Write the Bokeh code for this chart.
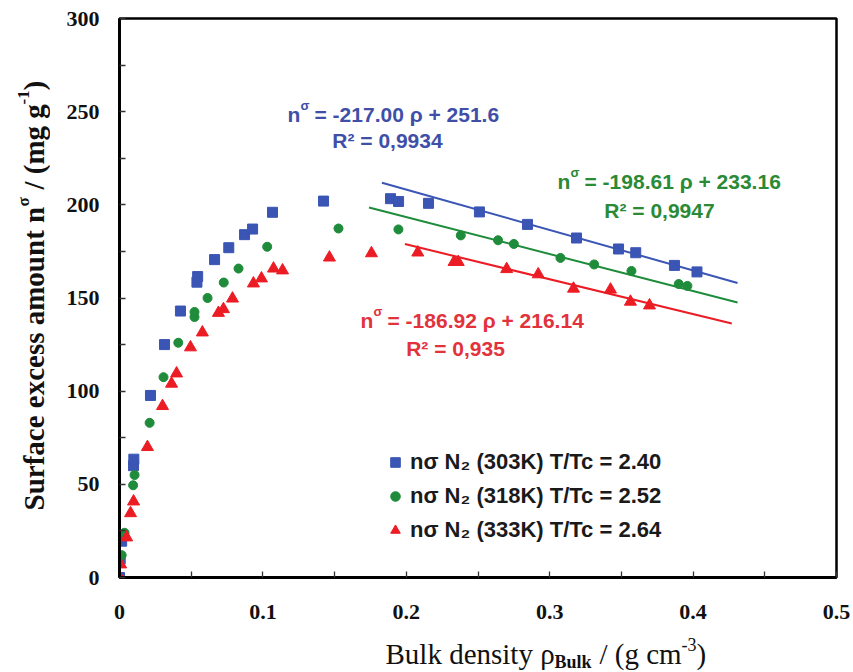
from math import pi
from bokeh.plotting import figure
from bokeh.layouts import row, column
from bokeh.models import (FixedTicker, NumeralTickFormatter, Label, Legend,
                          LegendItem, Range1d, ColumnDataSource)
from bokeh.embed import file_html
from bokeh.resources import INLINE

# ---------------- data ----------------
x_303 = [0.0, 0.0005, 0.0015, 0.0098, 0.0100, 0.0216, 0.0314, 0.0425, 0.0540,
         0.0545, 0.0663, 0.0762, 0.0872, 0.0928, 0.1067, 0.1423, 0.1890, 0.1946,
         0.2155, 0.2510, 0.2845, 0.3187, 0.3480, 0.3600, 0.3870, 0.4027]
y_303 = [0.0, 10.0, 19.5, 60.0, 63.5, 97.7, 125.0, 143.0, 158.5,
         161.5, 170.6, 177.0, 184.0, 187.0, 196.0, 202.0, 203.3, 201.8,
         200.8, 196.2, 189.5, 182.2, 176.3, 174.3, 167.5, 164.0]

x_318 = [0.0015, 0.0035, 0.0095, 0.0105, 0.0210, 0.0307, 0.0410, 0.0523, 0.0523,
         0.0614, 0.0727, 0.0830, 0.1030, 0.1527, 0.1945, 0.2380, 0.2640, 0.2750,
         0.3075, 0.3310, 0.3570, 0.3900, 0.3960]
y_318 = [12.0, 24.0, 49.5, 55.0, 83.0, 107.5, 126.0, 139.8, 142.5,
         150.0, 158.3, 165.8, 177.5, 187.3, 186.8, 183.6, 181.0, 179.0,
         171.5, 168.0, 164.5, 157.5, 156.5]

x_333 = [0.0, 0.0008, 0.0050, 0.0077, 0.0098, 0.0195, 0.0300, 0.0363, 0.0398,
         0.0495, 0.0578, 0.0690, 0.0725, 0.0788, 0.0934, 0.0990, 0.1074, 0.1137,
         0.1464, 0.1757, 0.2080, 0.2333, 0.2362, 0.2700, 0.2920, 0.3166, 0.3424,
         0.3563, 0.3696]
y_333 = [0.0, 7.0, 21.5, 34.5, 40.8, 70.0, 92.0, 104.0, 109.5,
         123.5, 131.5, 142.0, 144.0, 149.7, 157.8, 160.5, 165.8, 164.8,
         171.7, 174.0, 174.4, 169.3, 169.3, 165.5, 162.7, 155.0, 154.5,
         148.0, 146.0]

# linear fits shown on the chart (slope, intercept, x-extent of drawn line)
fit_slope = [-217.00, -198.61, -186.92]
fit_intercept = [251.6, 233.16, 216.14]
fit_x_start = [0.183, 0.174, 0.199]
fit_x_end = [0.431, 0.431, 0.427]

fit_eq = ["= -217.00 ρ + 251.6", "= -198.61 ρ + 233.16", "= -186.92 ρ + 216.14"]
fit_r2 = ["R² = 0,9934", "R² = 0,9947", "R² = 0,935"]

legend_labels = ["nσ N₂ (303K) T/Tc = 2.40",
                 "nσ N₂ (318K) T/Tc = 2.52",
                 "nσ N₂ (333K) T/Tc = 2.64"]

x_ticks = [0, 0.1, 0.2, 0.3, 0.4, 0.5]
x_minor = [0.05, 0.15, 0.25, 0.35, 0.45]
y_ticks = [0, 50, 100, 150, 200, 250, 300]
y_minor = [25, 75, 125, 175, 225, 275]

# ---------------- styling ----------------
BLUE = "#3a55b4"
GREEN = "#1e8c3a"
RED = "#ec1c24"
BLUE_T = "#3f4fa8"
GREEN_T = "#2a8a35"
RED_T = "#e2323c"
SERIF = "Liberation Serif"
SANS = "Liberation Sans"

p = figure(width=803, height=630, x_range=Range1d(0, 0.5), y_range=Range1d(0, 300),
           output_backend="svg", toolbar_location=None,
           min_border_left=69, min_border_right=17, min_border_top=18,
           min_border_bottom=53)
p.xgrid.visible = False
p.ygrid.visible = False
p.outline_line_color = "black"
p.outline_line_width = 2.5
p.background_fill_color = "white"
p.border_fill_color = "white"

for ax in (p.xaxis[0], p.yaxis[0]):
    ax.axis_line_width = 3
    ax.axis_line_color = "black"
    ax.major_tick_in = 6
    ax.major_tick_out = 0
    ax.minor_tick_in = 6
    ax.minor_tick_out = 0
    ax.major_tick_line_width = 1.3
    ax.minor_tick_line_width = 1.3
    ax.major_tick_line_color = "#333333"
    ax.minor_tick_line_color = "#333333"
    ax.major_label_text_font = SERIF
    ax.major_label_text_font_style = "bold"
    ax.major_label_text_font_size = "22px"
    ax.major_label_text_color = "#111111"

p.xaxis.ticker = FixedTicker(ticks=x_ticks, minor_ticks=x_minor)
p.xaxis.formatter = NumeralTickFormatter(format="0.[0]")
p.xaxis.major_label_standoff = 27
p.yaxis.ticker = FixedTicker(ticks=y_ticks, minor_ticks=y_minor)
p.yaxis.formatter = NumeralTickFormatter(format="0")
p.yaxis.major_label_standoff = 20

# fit lines
line_colors = [BLUE, GREEN, RED]
for m, b, x0, x1, c in zip(fit_slope, fit_intercept, fit_x_start, fit_x_end, line_colors):
    src = ColumnDataSource(dict(x=[x0, x1], y=[m * x0 + b, m * x1 + b]))
    p.line("x", "y", source=src, line_color=c, line_width=2)

r303 = p.scatter(x_303, y_303, marker="square", size=10, fill_color=BLUE, line_color=BLUE)
r318 = p.scatter(x_318, y_318, marker="circle", size=9, fill_color=GREEN, line_color=GREEN)
r333 = p.scatter(x_333, y_333, marker="triangle", size=12, fill_color=RED, line_color=RED)

legend = Legend(items=[LegendItem(label=legend_labels[0], renderers=[r303]),
                       LegendItem(label=legend_labels[1], renderers=[r318]),
                       LegendItem(label=legend_labels[2], renderers=[r333])],
                location=(264, 34), padding=0, spacing=8, glyph_width=24,
                glyph_height=24, label_height=24, label_standoff=3,
                border_line_alpha=0, background_fill_alpha=0,
                label_text_font=SANS, label_text_font_style="bold",
                label_text_font_size="22px", label_text_color="#1a1a1a")
p.add_layout(legend)


def lab(fig, text, sx, sy, size, color="#111111", font=SERIF, style="normal",
        angle=0.0, align="left"):
    fig.add_layout(Label(x=sx, y=sy, x_units="screen", y_units="screen", text=text,
                         text_font=font, text_font_style=style,
                         text_font_size=f"{size}px", text_color=color,
                         angle=angle, text_align=align,
                         text_baseline="middle"))


# equation annotations (screen units relative to the frame)
eq_pos = [(168, 463), (438, 396), (241, 257)]
r2_pos = [(268, 437), (540, 367), (336, 229)]
txt_colors = [BLUE_T, GREEN_T, RED_T]
for (ex, ey), (rx, ry), eq, r2, c in zip(eq_pos, r2_pos, fit_eq, fit_r2, txt_colors):
    lab(p, "n", ex, ey, 21, c, SANS, "bold")
    lab(p, "σ", ex + 13, ey + 9, 13, c, SANS, "bold")
    lab(p, eq, ex + 27, ey, 21, c, SANS, "bold")
    lab(p, r2, rx, ry, 21, c, SANS, "bold", align="center")


def blank(w, h):
    f = figure(width=w, height=h, output_backend="svg", toolbar_location=None,
               x_axis_type=None, y_axis_type=None, min_border=0,
               x_range=Range1d(0, 1), y_range=Range1d(0, 1))
    f.outline_line_color = None
    f.grid.visible = False
    return f


# y-axis title (rotated) in a narrow panel on the left
left = blank(50, 672)
A = pi / 2
lab(left, "Surface excess amount n", 33, 162, 29, style="bold", angle=A)
lab(left, "σ", 23, 466, 17, style="bold", angle=A)
lab(left, "/ (mg g", 33, 483, 29, style="bold", angle=A)
lab(left, "-1", 23, 568, 17, style="bold", angle=A)
lab(left, ")", 33, 582, 29, style="bold", angle=A)

# x-axis title in a panel below (its frame is aligned with the plot frame)
bottom = blank(803, 42)
lab(bottom, "Bulk density ρ", 266, 19, 29)
lab(bottom, "Bulk", 435, 11, 18, style="bold")
lab(bottom, "/ (g cm", 480, 19, 29)
lab(bottom, "-3", 562, 28, 18)
lab(bottom, ")", 577, 19, 29)

layout = row(left, column(p, bottom, spacing=0), spacing=0)

open("out.html", "w").write(file_html(layout, INLINE))
